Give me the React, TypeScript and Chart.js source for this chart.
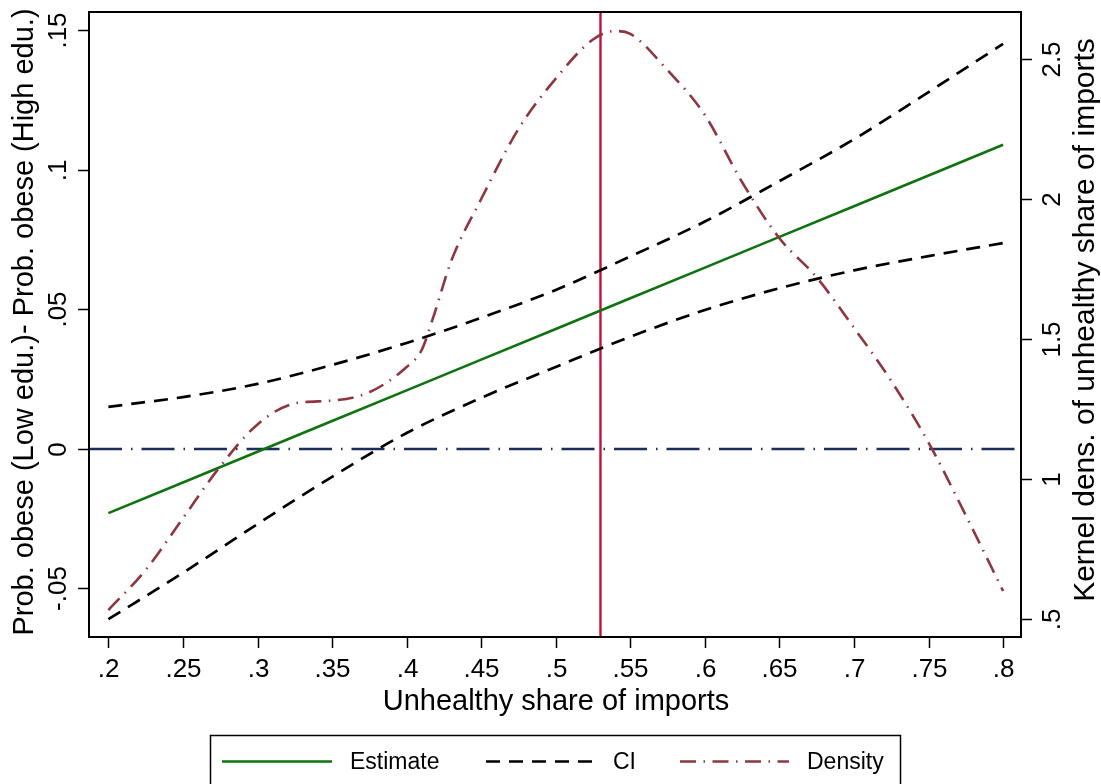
import React, { useEffect, useRef } from "react";
import { Chart, registerables } from "chart.js";

Chart.register(...registerables);

// ---- data ----
const ciX = [0.2, 0.25, 0.3, 0.35, 0.4, 0.45, 0.5, 0.55, 0.6, 0.65, 0.7, 0.75, 0.8];
const estimate = [-0.023, -0.012, -0.001, 0.01, 0.021, 0.032, 0.043, 0.054, 0.065, 0.076, 0.087, 0.098, 0.109];
const ciUpper = [0.0151, 0.0186, 0.0233, 0.0301, 0.0380, 0.0470, 0.0570, 0.0690, 0.0815, 0.0960, 0.1110, 0.1279, 0.1452];
const ciLower = [-0.061, -0.0444, -0.0269, -0.0100, 0.0057, 0.0183, 0.0294, 0.0402, 0.0498, 0.0576, 0.0640, 0.0691, 0.0738];

const densX = [0.2, 0.225, 0.25, 0.275, 0.3, 0.325, 0.35, 0.375, 0.4, 0.41, 0.418, 0.43, 0.45, 0.475, 0.5, 0.525, 0.54, 0.55, 0.575, 0.6, 0.625, 0.65, 0.675, 0.7, 0.725, 0.75, 0.775, 0.8];
const density = [0.532, 0.675, 0.86, 1.045, 1.195, 1.27, 1.28, 1.31, 1.40, 1.46, 1.58, 1.78, 2.0, 2.25, 2.43, 2.57, 2.6, 2.59, 2.46, 2.30, 2.06, 1.86, 1.72, 1.54, 1.35, 1.13, 0.87, 0.60];

const refX = 0.53; // vertical reference line
const refY = 0; // horizontal reference line

const xTicks = [0.2, 0.25, 0.3, 0.35, 0.4, 0.45, 0.5, 0.55, 0.6, 0.65, 0.7, 0.75, 0.8];
const xTickLabels = [".2", ".25", ".3", ".35", ".4", ".45", ".5", ".55", ".6", ".65", ".7", ".75", ".8"];
const yTicks = [-0.05, 0, 0.05, 0.1, 0.15];
const yTickLabels = ["-.05", "0", ".05", ".1", ".15"];
const y2Ticks = [0.5, 1, 1.5, 2, 2.5];
const y2TickLabels = [".5", "1", "1.5", "2", "2.5"];

const xTitle = "Unhealthy share of imports";
const yTitle = "Prob. obese (Low edu.)- Prob. obese (High edu.)";
const y2Title = "Kernel dens. of unhealthy share of imports";
const legendLabels = ["Estimate", "CI", "Density"];

const X_MIN = 0.187, X_MAX = 0.812;
const Y_MIN = -0.0674, Y_MAX = 0.1566;
const Y2_MIN = 0.4357, Y2_MAX = 2.668;

const FONT = "'Liberation Sans', Arial, Helvetica, sans-serif";
const GREEN = "#0e720e";
const DENS = "#8e3640";
const NAVY = "#1d2c5e";
const REDLINE = "#c4103c";

const pairs = (xs: number[], ys: number[]) => xs.map((x, i) => ({ x, y: ys[i] }));

const drawPlugin = {
  id: "stataDecor",
  afterDraw(chart: any) {
    const ctx: CanvasRenderingContext2D = chart.ctx;
    const { left, right, top, bottom } = chart.chartArea;
    const xs = chart.scales.x, ys = chart.scales.y, y2 = chart.scales.y2;
    ctx.save();
    ctx.fillStyle = "#000";
    ctx.strokeStyle = "#000";
    // frame
    ctx.lineWidth = 2;
    ctx.setLineDash([]);
    ctx.strokeRect(left, top, right - left, bottom - top);

    // x ticks
    ctx.lineWidth = 1.5;
    ctx.font = `26px ${FONT}`;
    ctx.textAlign = "center";
    ctx.textBaseline = "alphabetic";
    xTicks.forEach((v, i) => {
      const px = Math.round(xs.getPixelForValue(v)) + 0.5;
      ctx.beginPath();
      ctx.moveTo(px, bottom);
      ctx.lineTo(px, bottom + 11);
      ctx.stroke();
      ctx.fillText(xTickLabels[i], px, bottom + 40);
    });
    // left y ticks
    yTicks.forEach((v, i) => {
      const py = Math.round(ys.getPixelForValue(v)) + 0.5;
      ctx.beginPath();
      ctx.moveTo(left, py);
      ctx.lineTo(left - 11, py);
      ctx.stroke();
      ctx.save();
      ctx.translate(left - 23, py);
      ctx.rotate(-Math.PI / 2);
      ctx.fillText(yTickLabels[i], 0, 0);
      ctx.restore();
    });
    // right y ticks
    y2Ticks.forEach((v, i) => {
      const py = Math.round(y2.getPixelForValue(v)) + 0.5;
      ctx.beginPath();
      ctx.moveTo(right, py);
      ctx.lineTo(right + 11, py);
      ctx.stroke();
      ctx.save();
      ctx.translate(right + 39, py);
      ctx.rotate(-Math.PI / 2);
      ctx.fillText(y2TickLabels[i], 0, 0);
      ctx.restore();
    });
    // titles
    ctx.font = `29px ${FONT}`;
    ctx.fillText(xTitle, (left + right) / 2 + 1, bottom + 73);
    ctx.save();
    ctx.translate(33, 322);
    ctx.rotate(-Math.PI / 2);
    ctx.fillText(yTitle, 0, 0);
    ctx.restore();
    ctx.font = `30px ${FONT}`;
    ctx.save();
    ctx.translate(1094, 320);
    ctx.rotate(-Math.PI / 2);
    ctx.fillText(y2Title, 0, 0);
    ctx.restore();

    // legend
    ctx.lineWidth = 1.5;
    ctx.strokeRect(210.5, 735.5, 690, 60);
    const ly = 761.5;
    const items = [
      { x0: 222, x1: 332, tx: 350, ds: chart.data.datasets[0] },
      { x0: 486, x1: 595, tx: 613, ds: chart.data.datasets[1] },
      { x0: 680, x1: 789, tx: 807, ds: chart.data.datasets[3] },
    ];
    ctx.font = `23px ${FONT}`;
    ctx.textAlign = "left";
    ctx.textBaseline = "middle";
    items.forEach((it, i) => {
      ctx.save();
      ctx.strokeStyle = it.ds.borderColor;
      ctx.lineWidth = it.ds.borderWidth;
      ctx.setLineDash(it.ds.borderDash || []);
      ctx.beginPath();
      ctx.moveTo(it.x0, ly);
      ctx.lineTo(it.x1, ly);
      ctx.stroke();
      ctx.restore();
      ctx.fillText(legendLabels[i], it.tx, ly + 1);
    });
    ctx.restore();
  },
};

export default function App() {
  const ref = useRef<HTMLCanvasElement | null>(null);
  useEffect(() => {
    document.body.style.margin = "0";
    const canvas = ref.current!;
    const chart = new Chart(canvas, {
      type: "line",
      data: {
        datasets: [
          {
            label: legendLabels[0],
            data: pairs(ciX, estimate),
            borderColor: GREEN,
            borderWidth: 2.6,
            pointRadius: 0,
            yAxisID: "y",
            order: 2,
          } as any,
          {
            label: legendLabels[1],
            data: pairs(ciX, ciUpper),
            borderColor: "#000",
            borderWidth: 2.7,
            borderDash: [14, 9],
            pointRadius: 0,
            cubicInterpolationMode: "monotone",
            yAxisID: "y",
            order: 1,
          },
          {
            label: "CI lower",
            data: pairs(ciX, ciLower),
            borderColor: "#000",
            borderWidth: 2.7,
            borderDash: [14, 9],
            pointRadius: 0,
            cubicInterpolationMode: "monotone",
            yAxisID: "y",
            order: 1,
          },
          {
            label: legendLabels[2],
            data: pairs(densX, density),
            borderColor: DENS,
            borderWidth: 2.6,
            borderDash: [16, 7.5, 1.5, 7.5],
            pointRadius: 0,
            cubicInterpolationMode: "monotone",
            yAxisID: "y2",
            order: 0,
          },
          {
            label: "zero",
            data: [
              { x: X_MIN, y: refY },
              { x: X_MAX, y: refY },
            ],
            borderColor: NAVY,
            borderWidth: 2.6,
            borderDash: [33, 9, 1.5, 9],
            pointRadius: 0,
            yAxisID: "y",
            order: 5,
          },
          {
            label: "mean",
            data: [
              { x: refX, y: Y_MIN },
              { x: refX, y: Y_MAX },
            ],
            borderColor: REDLINE,
            borderWidth: 2.4,
            pointRadius: 0,
            yAxisID: "y",
            order: 4,
          },
        ],
      },
      options: {
        responsive: false,
        animation: false,
        devicePixelRatio: 1,
        layout: { padding: { left: 89, top: 12, right: 80, bottom: 147 } },
        plugins: { legend: { display: false }, tooltip: { enabled: false } },
        scales: {
          x: { type: "linear", min: X_MIN, max: X_MAX, display: false },
          y: { type: "linear", min: Y_MIN, max: Y_MAX, display: false },
          y2: { type: "linear", min: Y2_MIN, max: Y2_MAX, display: false, position: "right" },
        },
      },
      plugins: [drawPlugin],
    });
    return () => chart.destroy();
  }, []);
  return (
    <div style={{ width: 1101, height: 784, background: "#fff" }}>
      <canvas ref={ref} width={1101} height={784} style={{ display: "block" }} />
    </div>
  );
}
